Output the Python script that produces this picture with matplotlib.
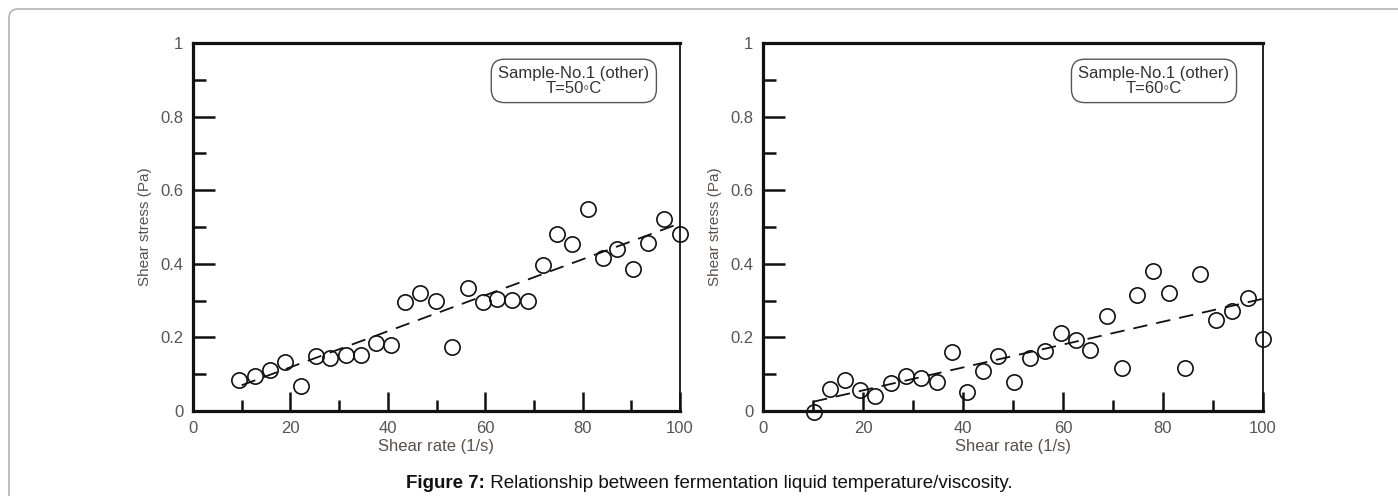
import matplotlib
matplotlib.use('Agg')
import matplotlib.pyplot as plt
from matplotlib.patches import FancyBboxPatch
from matplotlib.ticker import MultipleLocator
from matplotlib.transforms import offset_copy

plt.rcParams['font.family'] = ['Liberation Sans', 'DejaVu Sans']

# data
# T = 50 C
rate_50 = [9.5, 12.7, 15.9, 18.8, 22.1, 25.2, 28.2, 31.4, 34.5, 37.5,
           40.6, 43.5, 46.7, 49.8, 53.1, 56.4, 59.5, 62.5, 65.6, 68.7,
           71.8, 74.8, 77.9, 81.2, 84.2, 87.1, 90.3, 93.5, 96.7, 100.0]
stress_50 = [0.083, 0.094, 0.112, 0.132, 0.069, 0.150, 0.143, 0.151, 0.153, 0.184,
             0.180, 0.295, 0.320, 0.298, 0.175, 0.334, 0.295, 0.304, 0.302, 0.298,
             0.398, 0.481, 0.455, 0.548, 0.416, 0.440, 0.386, 0.457, 0.523, 0.482]
fit_x_50 = [10, 100]
fit_y_50 = [0.070, 0.510]

# T = 60 C
rate_60 = [10.2, 13.3, 16.3, 19.4, 22.4, 25.5, 28.6, 31.6, 34.7, 37.8,
           40.7, 43.9, 46.9, 50.2, 53.3, 56.4, 59.5, 62.6, 65.4, 68.7,
           71.7, 74.7, 77.9, 81.1, 84.3, 87.4, 90.6, 93.7, 96.9, 100.0]
stress_60 = [-0.003, 0.060, 0.084, 0.057, 0.042, 0.077, 0.096, 0.091, 0.078, 0.160,
             0.051, 0.109, 0.150, 0.078, 0.143, 0.162, 0.212, 0.193, 0.166, 0.257,
             0.118, 0.316, 0.380, 0.321, 0.116, 0.371, 0.248, 0.271, 0.307, 0.195]
fit_x_60 = [10, 100]
fit_y_60 = [0.025, 0.305]

panels = [
    (rate_50, stress_50, fit_x_50, fit_y_50, 'Sample-No.1 (other)\nT=50\u25e6C'),
    (rate_60, stress_60, fit_x_60, fit_y_60, 'Sample-No.1 (other)\nT=60\u25e6C'),
]

fig = plt.figure(figsize=(13.98, 4.96), dpi=100)

# light rounded frame round the whole figure
frame = FancyBboxPatch((9, -30), 1440, 517, boxstyle='round,pad=0,rounding_size=9',
                       transform=None, facecolor='none', edgecolor='#b4b4b4',
                       linewidth=1.2, zorder=0)
fig.patches.append(frame)

axes_rects = [
    [193 / 1398, 1 - 411 / 496, 487 / 1398, 368 / 496],
    [763 / 1398, 1 - 411 / 496, 500 / 1398, 368 / 496],
]

for rect, (xs, ys, fx, fy, label) in zip(axes_rects, panels):
    ax = fig.add_axes(rect)
    ax.plot(fx, fy, color='#111111', linestyle=(0, (8, 5)), linewidth=1.3, zorder=2)
    ax.plot(xs, ys, linestyle='none', marker='o', markersize=11,
            markerfacecolor='none', markeredgecolor='#111111',
            markeredgewidth=1.2, zorder=3, clip_on=False)

    ax.set_xlim(0, 100)
    ax.set_ylim(0, 1)
    ax.xaxis.set_major_locator(MultipleLocator(20))
    ax.xaxis.set_minor_locator(MultipleLocator(10))
    ax.yaxis.set_major_locator(MultipleLocator(0.2))
    ax.yaxis.set_minor_locator(MultipleLocator(0.1))
    ax.set_xticks([0, 20, 40, 60, 80, 100])
    ax.set_xticklabels(['0', '20', '40', '60', '80', '100'])
    ax.set_yticks([0, 0.2, 0.4, 0.6, 0.8, 1.0])
    ax.set_yticklabels(['0', '0.2', '0.4', '0.6', '0.8', '1'])

    ax.tick_params(which='both', direction='in', top=False, right=False,
                   color='#111111', width=1.8)
    ax.tick_params(axis='y', which='major', length=16, pad=7,
                   labelsize=12, labelcolor='#555555')
    ax.tick_params(axis='y', which='minor', length=9)
    ax.tick_params(axis='x', which='major', length=14, pad=7,
                   labelsize=12, labelcolor='#555555')
    ax.tick_params(axis='x', which='minor', length=8)

    for side in ['left', 'bottom', 'top']:
        ax.spines[side].set_linewidth(2.3)
        ax.spines[side].set_color('#111111')
    ax.spines['right'].set_linewidth(1.3)
    ax.spines['right'].set_color('#111111')

    ax.set_xlabel('Shear rate (1/s)', fontsize=12, color='#5a5048', labelpad=2)
    ax.set_ylabel('Shear stress (Pa)', fontsize=11, color='#5a5048', labelpad=6)

    ax.text(78.2, 0.897, label, ha='center', va='center', fontsize=12,
            color='#333333', linespacing=0.95,
            bbox=dict(boxstyle='round,pad=0.42,rounding_size=0.8',
                      facecolor='white', edgecolor='#555555', linewidth=1.0))

# caption: bold lead-in followed by plain text
cap_y = 1 - 483 / 496
lead = fig.text(406 / 1398, cap_y, 'Figure 7:', ha='left', va='center',
                fontsize=13.5, fontweight='bold', color='#111111')
renderer = fig.canvas.get_renderer()
lead_w = lead.get_window_extent(renderer).width
fig.text(406 / 1398, cap_y, ' Relationship between fermentation liquid temperature/viscosity.',
         ha='left', va='center', fontsize=13.5, color='#111111',
         transform=offset_copy(fig.transFigure, fig=fig, x=lead_w, y=0, units='dots'))

fig.savefig('out.png', dpi=100)
